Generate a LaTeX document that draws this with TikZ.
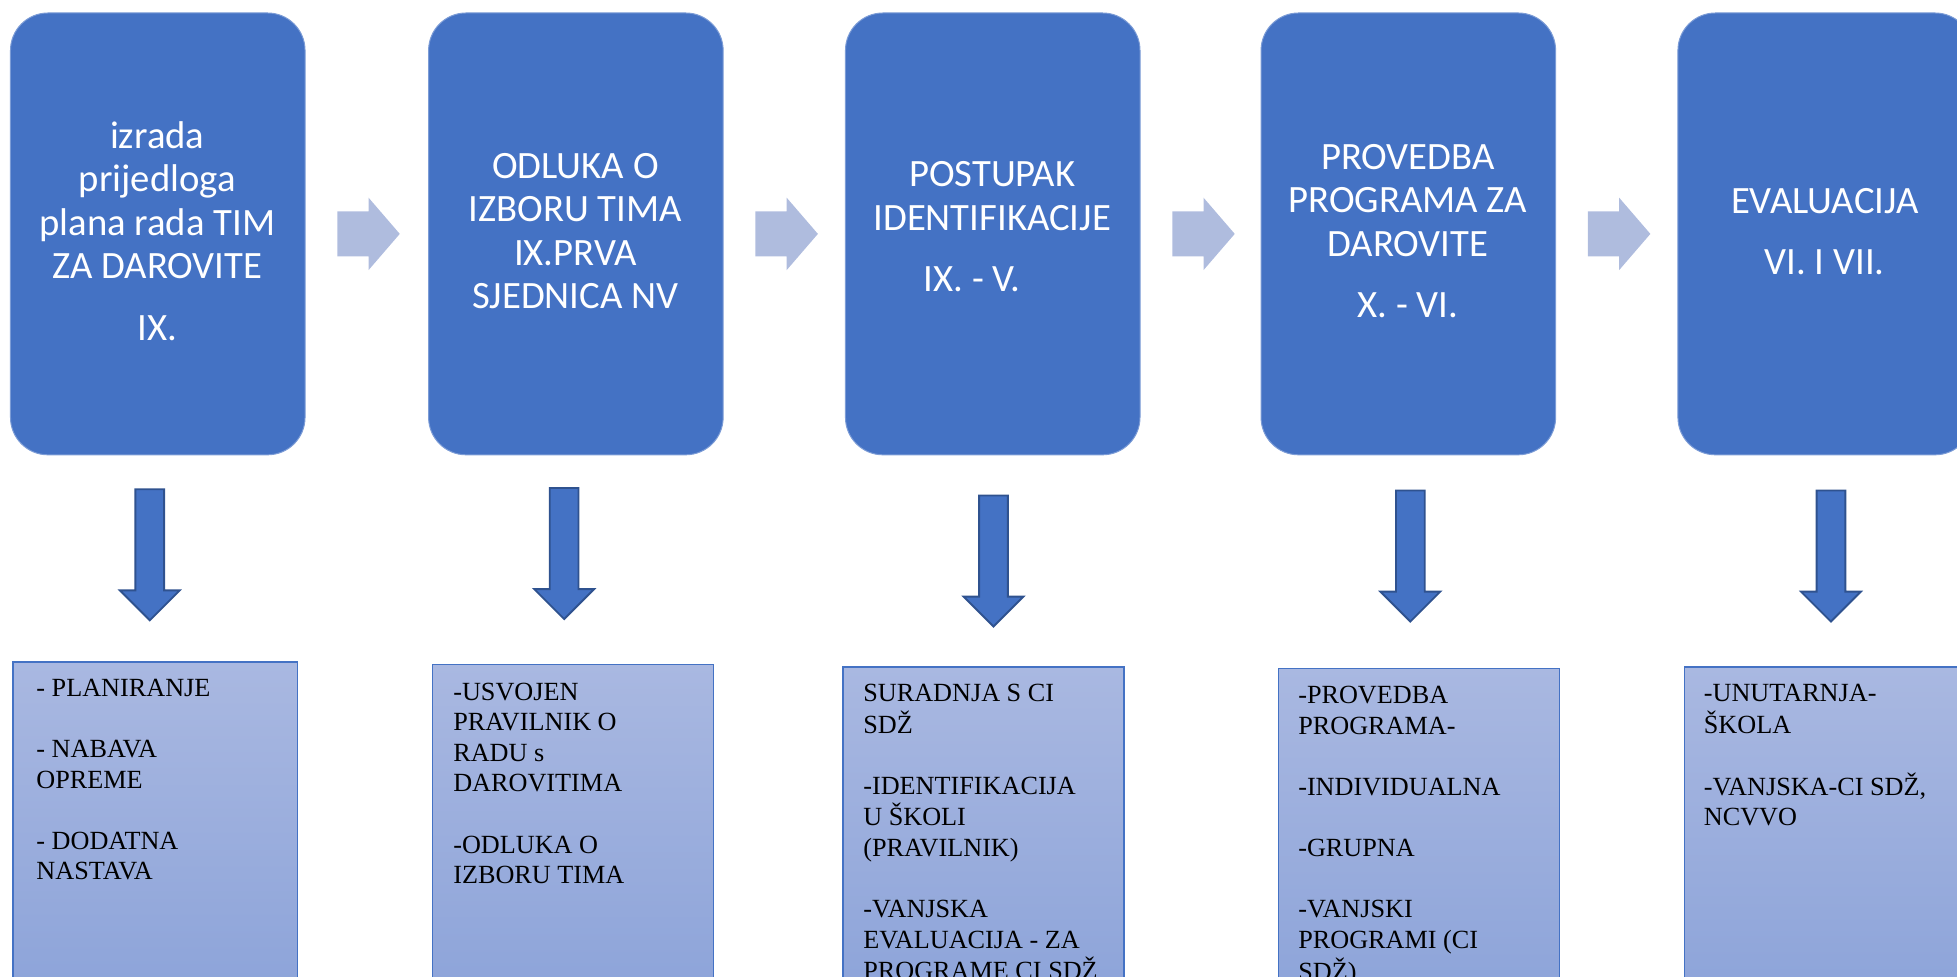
\documentclass[tikz,border=0pt]{standalone}
\usepackage{fontspec}
\newfontfamily\topfont{Carlito}
\newfontfamily\botfont{Liberation Serif}
\definecolor{boxblue}{HTML}{4472C4}
\definecolor{arrowedge}{HTML}{2F528F}
\definecolor{harrowc}{HTML}{AFBCDE}
\definecolor{gradtop}{HTML}{A9B8E1}
\definecolor{gradbot}{HTML}{89A1D8}
\begin{document}
\begin{tikzpicture}[x=1pt,y=-1pt,
 topbox/.style={rectangle, rounded corners=30pt, fill=boxblue, draw=boxblue!70!white, line width=0.8pt, minimum width=236pt, minimum height=354pt, inner sep=0pt, anchor=north west},
 botbox/.style={rectangle, top color=gradtop, bottom color=gradbot, draw=boxblue, line width=1pt, minimum width=225pt, minimum height=300pt, inner sep=0pt, anchor=north west},
 toptext/.style={anchor=base, inner sep=0pt, text=white, font=\topfont\fontsize{31}{34.8}\selectfont},
 bottext/.style={anchor=base west, inner sep=0pt, text=black, font=\botfont\fontsize{21}{24.5}\selectfont},
 harr/.pic={\fill[harrowc] (0,-18) -- (25,-18) -- (25,-29) -- (50,0) -- (25,29) -- (25,18) -- (0,18) -- cycle;},
 darr/.pic={\filldraw[fill=boxblue, draw=arrowedge, line width=1.5pt] (-11.5,0) -- (11.5,0) -- (11.5,81) -- (24,81) -- (0,105) -- (-24,81) -- (-11.5,81) -- cycle;}
]
\useasboundingbox (0,0) rectangle (1568,782);
\clip (0,0) rectangle (1568,782);

% top boxes
\node[topbox] (b1) at (8,10) {};
\node[topbox] (b2) at (343,10) {};
\node[topbox] (b3) at (677,10) {};
\node[topbox] (b4) at (1010,10) {};
\node[topbox] (b5) at (1344,10) {};

\node[toptext] (t1) at (126,119) {\begin{tabular}[t]{@{}c@{}}izrada\\prijedloga\\plana rada TIM\\ZA DAROVITE\\[14.5pt]IX.\end{tabular}};
\node[toptext] (t2) at (461,143) {\begin{tabular}[t]{@{}c@{}}ODLUKA O\\IZBORU TIMA\\IX.PRVA\\SJEDNICA NV\end{tabular}};
\node[toptext] (t3) at (795,149.6) {\begin{tabular}[t]{@{}c@{}}POSTUPAK\\IDENTIFIKACIJE\\[14.5pt]IX. - V.\hspace*{32pt}\end{tabular}};
\node[toptext] (t4) at (1128,135.7) {\begin{tabular}[t]{@{}c@{}}PROVEDBA\\PROGRAMA ZA\\DAROVITE\\[14.5pt]X. - VI.\end{tabular}};
\node[toptext] (t5) at (1462,171) {\begin{tabular}[t]{@{}c@{}}EVALUACIJA\\[14.5pt]VI. I VII.\end{tabular}};

% horizontal block arrows
\pic at ([xshift=25.5pt]b1.east) {harr};
\pic at ([xshift=25.5pt]b2.east) {harr};
\pic at ([xshift=25.5pt]b3.east) {harr};
\pic at ([xshift=25.5pt]b4.east) {harr};

% down arrows
\pic at (120,392) {darr};
\pic at (452,391) {darr};
\pic at (796,397) {darr};
\pic at (1130,393) {darr};
\pic at (1467,393) {darr};

% bottom boxes
\node[botbox, minimum width=228pt] (c1) at (10,530) {};
\node[botbox] (c2) at (346,532) {};
\node[botbox] (c3) at (675,534) {};
\node[botbox] (c4) at (1024,535) {};
\node[botbox, minimum width=240pt] (c5) at (1349,534) {};

\node[bottext] (d1) at (29,558) {\begin{tabular}[t]{@{}l@{}}- PLANIRANJE\\ \\- NABAVA\\OPREME\\ \\- DODATNA\\NASTAVA\end{tabular}};
\node[bottext] (d2) at (363,561) {\begin{tabular}[t]{@{}l@{}}-USVOJEN\\PRAVILNIK O\\RADU s\\DAROVITIMA\\ \\-ODLUKA O\\IZBORU TIMA\end{tabular}};
\node[bottext] (d3) at (691.5,562) {\begin{tabular}[t]{@{}l@{}}SURADNJA S CI\\SDŽ\\ \\-IDENTIFIKACIJA\\U ŠKOLI\\(PRAVILNIK)\\ \\-VANJSKA\\EVALUACIJA - ZA\\PROGRAME CI SDŽ\end{tabular}};
\node[bottext] (d4) at (1040,564) {\begin{tabular}[t]{@{}l@{}}-PROVEDBA\\PROGRAMA-\\ \\-INDIVIDUALNA\\ \\-GRUPNA\\ \\-VANJSKI\\PROGRAMI (CI\\SDŽ)\end{tabular}};
\node[bottext] (d5) at (1365,562) {\begin{tabular}[t]{@{}l@{}}-UNUTARNJA-\\ŠKOLA\\ \\-VANJSKA-CI SDŽ,\\NCVVO\end{tabular}};
\end{tikzpicture}
\end{document}
